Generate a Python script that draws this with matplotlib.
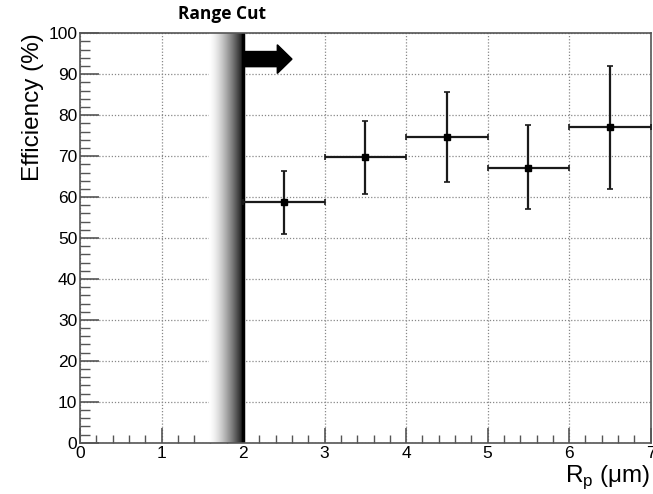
import numpy as np
import matplotlib
matplotlib.use("Agg")
import matplotlib.pyplot as plt
from matplotlib.ticker import MultipleLocator

# data
bin_centers = [2.5, 3.5, 4.5, 5.5, 6.5]
bin_halfwidth = [0.5, 0.5, 0.5, 0.5, 0.5]
efficiency = [58.7, 69.8, 74.7, 67.2, 77.0]
err_low = [7.7, 9.1, 11.0, 10.1, 15.0]
err_high = [7.7, 8.8, 11.0, 10.4, 15.1]
cut_value = 2.0
band_start = 1.58

plt.rcParams['font.family'] = ['Liberation Sans', 'DejaVu Sans']

fig = plt.figure(figsize=(6.53, 4.94), dpi=100)
ax = fig.add_axes([0.1225, 0.1038, 0.874, 0.8288])

ax.set_xlim(0, 7)
ax.set_ylim(0, 100)

# gradient band
grad = np.linspace(0, 1, 256) ** 1.5
ax.imshow(grad[np.newaxis, :], extent=[band_start, cut_value, 0, 100],
          aspect='auto', cmap='gray_r', vmin=0, vmax=1.05, zorder=1,
          interpolation='bilinear')
ax.axvline(cut_value, color='black', lw=2.5, zorder=2)

# arrow
ax.arrow(cut_value, 93.7, 0.42, 0, width=3.7, head_width=7.0,
         head_length=0.18, length_includes_head=False, color='black',
         zorder=3)

ax.errorbar(bin_centers, efficiency, xerr=bin_halfwidth,
            yerr=[err_low, err_high], fmt='s', color='black',
            ecolor='#1a1a1a', elinewidth=1.6, capsize=2, capthick=1.2,
            markersize=5, zorder=4)

ax.xaxis.set_major_locator(MultipleLocator(1))
ax.xaxis.set_minor_locator(MultipleLocator(0.2))
ax.yaxis.set_major_locator(MultipleLocator(10))
ax.yaxis.set_minor_locator(MultipleLocator(2))
ax.tick_params(which='both', direction='in', color='#555555', labelsize=12.5,
               top=False, right=False)
ax.tick_params(axis='y', which='major', length=14, width=1.2, pad=2)
ax.tick_params(axis='y', which='minor', length=7, width=1)
ax.tick_params(axis='x', which='major', length=11, width=1.2, pad=2)
ax.tick_params(axis='x', which='minor', length=6, width=1)
for s in ax.spines.values():
    s.set_color('#555555')
    s.set_linewidth(1.2)

ax.grid(True, which='major', linestyle=(0, (1, 1.5)), color='#888888', lw=0.9)
ax.set_axisbelow(True)

ax.set_ylabel('Efficiency (%)', fontsize=17.5, loc='top', labelpad=3)
ax.set_xlabel(r'R$_\mathregular{p}$ ($\mathregular{\mu}$m)', fontsize=17.5,
              loc='right', labelpad=2)

ax.text(1.74, 1.025, 'Range Cut', transform=ax.get_xaxis_transform(),
        ha='center', va='bottom', fontsize=12.5, fontweight='bold',
        family=['Open Sans', 'DejaVu Sans'])

fig.savefig('out.png', dpi=100)
